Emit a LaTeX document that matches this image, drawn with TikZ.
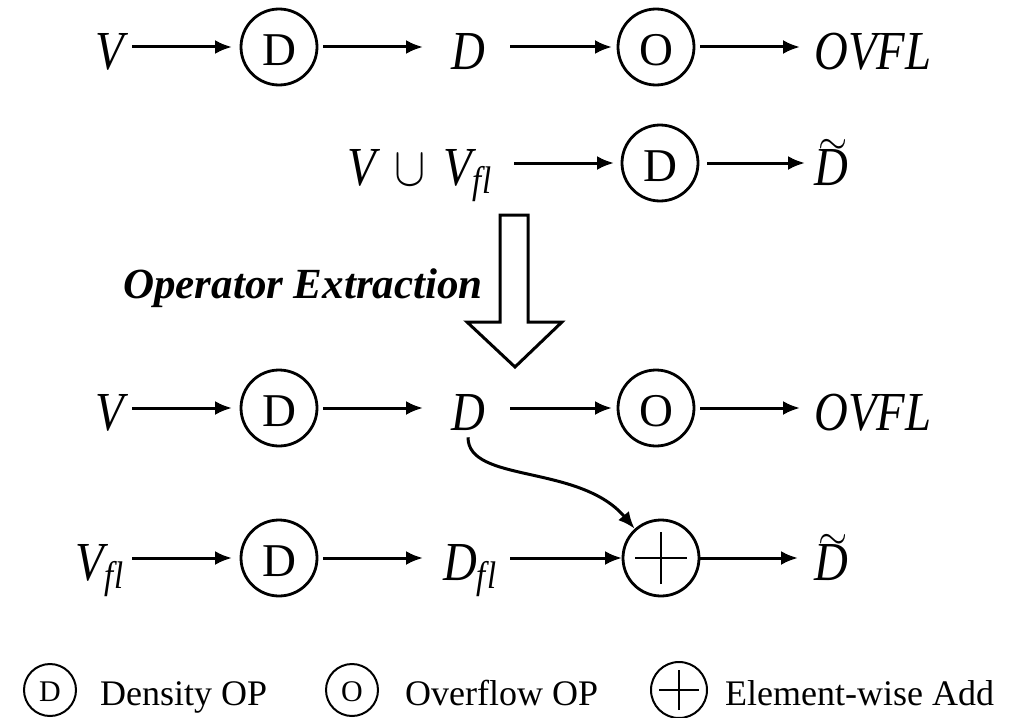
\RequirePackage{fix-cm}
\documentclass[tikz,border=0pt]{standalone}
\usepackage{amsmath}
\usepackage{fontspec}
\setmainfont{Liberation Serif}
\usepackage{graphicx}
\usetikzlibrary{arrows.meta,calc}
\newcommand{\mv}[1]{\scalebox{0.85}[1]{$#1$}}
\newcommand{\tilD}{\scalebox{0.85}[1]{\ooalign{\textit{D}\cr\hidewidth\hspace{5pt}\raisebox{31pt}{\scalebox{0.8}[0.75]{$\sim$}}\hidewidth\cr}}}
\newcommand{\fl}{\textit{f\kern0.04em l}}
\newcommand{\lowr}[2]{\raisebox{-#1}[\height][0pt]{#2}}
\begin{document}
\begin{tikzpicture}[x=1pt,y=-1pt,
  arr/.style={line width=3pt,-{Latex[length=17pt,width=14pt]}},
  op/.style={circle,draw,line width=2.8pt,minimum size=76pt,inner sep=0pt,
    font=\fontsize{47}{50}\selectfont},
  plusop/.style={circle,draw,line width=2.8pt,minimum size=76pt,inner sep=0pt,
    path picture={
      \draw[line width=2.8pt] ([xshift=-26pt]path picture bounding box.center) -- ([xshift=26pt]path picture bounding box.center);
      \draw[line width=2.8pt] ([yshift=-26pt]path picture bounding box.center) -- ([yshift=26pt]path picture bounding box.center);}},
  mlbl/.style={inner sep=0pt,anchor=base,font=\fontsize{55}{58}\selectfont},
  lop/.style={circle,draw,line width=2pt,minimum size=52pt,inner sep=0pt,
    font=\fontsize{30}{32}\selectfont},
  lplus/.style={circle,draw,line width=2pt,minimum size=56pt,inner sep=0pt,
    path picture={
      \draw[line width=2pt] ([xshift=-20pt]path picture bounding box.center) -- ([xshift=20pt]path picture bounding box.center);
      \draw[line width=2pt] ([yshift=-20pt]path picture bounding box.center) -- ([yshift=20pt]path picture bounding box.center);}},
  ltxt/.style={inner sep=0pt,anchor=base west,font=\fontsize{36}{40}\selectfont},
  hollow/.style={draw,line width=3pt,fill=white,line join=miter}
]
\fill[white] (0,0) rectangle (1030,717);
\useasboundingbox (0,0) rectangle (1030,717);

% Row 1
\node[mlbl] (V1) at (110,70) {\mv{\textit{V}}};
\node[op] (D1) at (279,47) {\lowr{3pt}{D}};
\node[mlbl] (Dt1) at (468,70) {\mv{\textit{D}}};
\node[op] (O1) at (656,47) {\lowr{3pt}{O}};
\node[mlbl] (OV1) at (873,70) {\mv{\textit{OVFL}}};
\draw[arr,shorten <=22pt,shorten >=47pt] (V1 |- D1) -- (D1.center);
\draw[arr,shorten <=44pt,shorten >=45pt] (D1.center) -- (Dt1 |- D1);
\draw[arr,shorten <=42pt,shorten >=44pt] (Dt1 |- O1) -- (O1.center);
\draw[arr,shorten <=44pt,shorten >=73pt] (O1.center) -- (OV1 |- O1);

% Row 2
\node[mlbl] (VU) at (420,185) {\mv{\textit{V}\,\cup\,\textit{V}_{\fl}}};
\node[op] (D2) at (660,163) {\lowr{3pt}{D}};
\node[mlbl] (Dtil2) at (831,185) {\tilD};
\draw[arr,shorten <=94pt,shorten >=46pt] (VU |- D2) -- (D2.center);
\draw[arr,shorten <=47pt,shorten >=26pt] (D2.center) -- (Dtil2 |- D2);

% Operator extraction
\node[inner sep=0pt,anchor=base west,font=\fontsize{43}{46}\selectfont\bfseries\itshape] (OE) at (123,298) {Operator Extraction};
\coordinate (BA) at (514,215);
\draw[hollow] (BA) ++(-14,0) -- ++(28,0) -- ++(0,107) -- ++(34,0) -- (515,367) -- (467,322) -- (500,322) -- cycle;

% Row 3
\node[mlbl] (V3) at (110,430) {\mv{\textit{V}}};
\node[op] (D3) at (279,408) {\lowr{3pt}{D}};
\node[mlbl] (Dt3) at (468,430) {\mv{\textit{D}}};
\node[op] (O3) at (656,408) {\lowr{3pt}{O}};
\node[mlbl] (OV3) at (873,430) {\mv{\textit{OVFL}}};
\draw[arr,shorten <=22pt,shorten >=47pt] (V3 |- D3) -- (D3.center);
\draw[arr,shorten <=44pt,shorten >=45pt] (D3.center) -- (Dt3 |- D3);
\draw[arr,shorten <=42pt,shorten >=44pt] (Dt3 |- O3) -- (O3.center);
\draw[arr,shorten <=44pt,shorten >=73pt] (O3.center) -- (OV3 |- O3);

% Row 4
\node[mlbl] (Vfl) at (100,580) {\mv{\textit{V}_{\fl}}};
\node[op] (D4) at (279,558) {\lowr{3pt}{D}};
\node[mlbl] (Dfl) at (470,580) {\mv{\textit{D}_{\fl}}};
\node[plusop] (P) at (661,558) {};
\node[mlbl] (Dtil4) at (831,580) {\tilD};
\draw[arr,shorten <=32pt,shorten >=47pt] (Vfl |- D4) -- (D4.center);
\draw[arr,shorten <=44pt,shorten >=47pt] (D4.center) -- (Dfl |- D4);
\draw[arr,shorten <=40pt,shorten >=39pt] (Dfl |- P) -- (P.center);
\draw[arr,shorten <=39pt,shorten >=33pt] (P.center) -- (Dtil4 |- P);

% Curved connector
\draw[arr,shorten <=7pt] (Dt3.south) .. controls +(0,53) and +(-55,-65) .. (P.132);

% Legend
\node[lop] (LD) at (50,690) {\lowr{2pt}{D}};
\node[ltxt] (LDt) at (100,705) {Density OP};
\node[lop] (LO) at (352,690) {\lowr{2pt}{O}};
\node[ltxt] (LOt) at (405,705) {Overflow OP};
\node[lplus] (LP) at (679,690) {};
\node[ltxt] (LPt) at (725,705) {Element-wise Add};
\end{tikzpicture}
\end{document}
